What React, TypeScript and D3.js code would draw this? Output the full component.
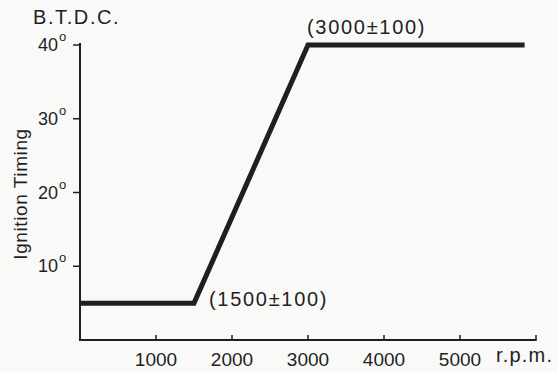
import React from "react";
import * as d3 from "d3";

const rpm = [0, 1500, 3000, 5850];
const timing = [5, 5, 40, 40];
const xTicks = [1000, 2000, 3000, 4000, 5000];
const yTicks = [10, 20, 30, 40];
const annotations = [
  { x: 1500, y: 5, text: "(1500±100)" },
  { x: 3000, y: 40, text: "(3000±100)" },
];

const W = 558, H = 372;
const FONT = "'Liberation Sans', Arial, sans-serif";
const INK = "#1f1f1f";

export default function App() {
  const x = d3.scaleLinear().domain([0, 6000]).range([80, 536]);
  const y = d3.scaleLinear().domain([0, 40]).range([340, 45]);
  const line = d3.line<number>().x((_, i) => x(rpm[i])).y((d) => y(d));

  return (
    <svg width={W} height={H} style={{ position: "absolute", left: 0, top: 0 }} fontFamily={FONT}>
      <rect width={W} height={H} fill="#f9f9f8" />
      {/* axes */}
      <line x1={x(0)} x2={x(0)} y1={y(0) + 1} y2={y(40) - 2} stroke={INK} strokeWidth={2} />
      <line x1={x(0) - 1} x2={x(6000)} y1={y(0)} y2={y(0)} stroke={INK} strokeWidth={2} />
      {yTicks.map((t) => (
        <g key={"y" + t}>
          <line x1={x(0) - 7} x2={x(0)} y1={y(t)} y2={y(t)} stroke={INK} strokeWidth={1.5} />
          <text x={x(0) - 22} y={y(t) + 6} textAnchor="end" fontSize={18} fill={INK}>
            {t}
          </text>
          <text x={x(0) - 21} y={y(t) - 4} fontSize={13} fill={INK}>o</text>
        </g>
      ))}
      {[...xTicks, 6000].map((t) => (
        <line key={"x" + t} x1={x(t)} x2={x(t)} y1={y(0) - 5} y2={y(0) + 1} stroke={INK} strokeWidth={1.5} />
      ))}
      {xTicks.map((t) => (
        <text key={"xl" + t} x={x(t)} y={366} textAnchor="middle" fontSize={19} fill={INK}>
          {t}
        </text>
      ))}
      <text x={496} y={362} fontSize={20} letterSpacing={1.2} fill={INK}>r.p.m.</text>
      <text x={33} y={24} fontSize={20} letterSpacing={1.6} fill={INK}>B.T.D.C.</text>
      <text transform={`translate(27,${194}) rotate(-90)`} textAnchor="middle" fontSize={19} letterSpacing={0.6} fill={INK}>
        Ignition Timing
      </text>
      {/* data line */}
      <path d={line(timing) || ""} fill="none" stroke={INK} strokeWidth={5} strokeLinejoin="miter" />
      {annotations.map((a, i) => (
        <text
          key={"a" + i}
          x={i === 0 ? x(a.x) + 15 : x(a.x) - 1}
          y={i === 0 ? 306 : 34}
          fontSize={20}
          letterSpacing={1.7}
          fill={INK}
        >
          {a.text}
        </text>
      ))}
    </svg>
  );
}
